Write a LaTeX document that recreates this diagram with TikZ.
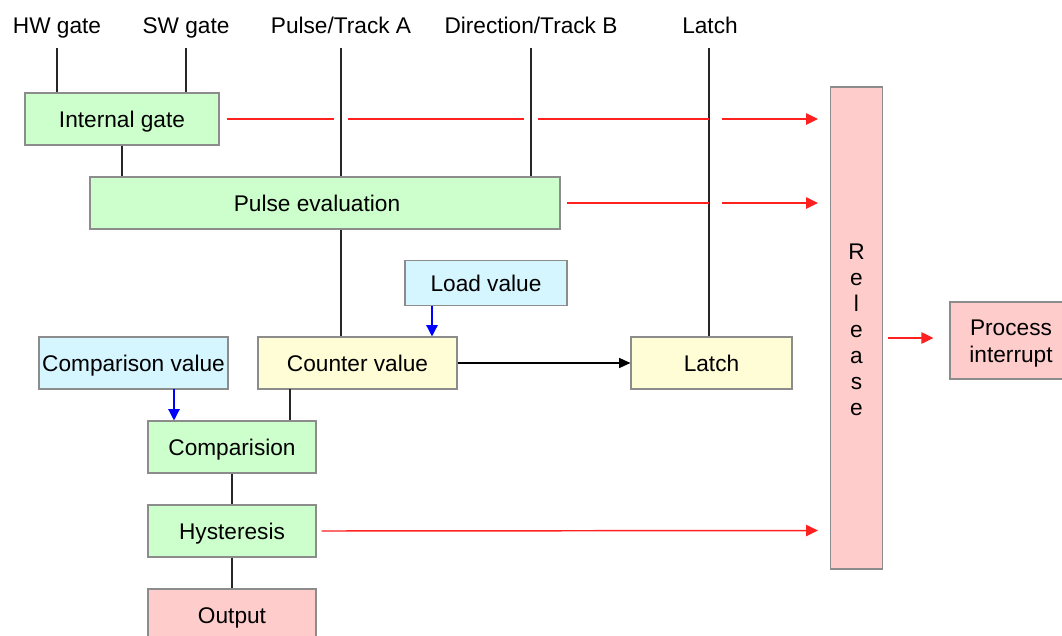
\documentclass[tikz,border=0pt]{standalone}
\usepackage{fontspec}
\setmainfont{Liberation Sans}
\usetikzlibrary{arrows.meta,calc}
\definecolor{gfill}{HTML}{CCFFCC}
\definecolor{bfill}{HTML}{D5F5FF}
\definecolor{yfill}{HTML}{FFFDD5}
\definecolor{pfill}{HTML}{FFCCCC}
\definecolor{bord}{HTML}{8C8C8C}
\definecolor{lred}{HTML}{FF2020}
\begin{document}
\begin{tikzpicture}[x=0.75pt,y=-0.75pt,
  font=\fontsize{17}{20}\selectfont,
  box/.style 2 args={draw=bord, line width=0.8pt, inner sep=0pt, anchor=center,
    minimum width={#1*0.75pt}, minimum height={#2*0.75pt},
    text height=12.2pt, text depth=0pt},
  gbox/.style 2 args={box={#1}{#2}, fill=gfill},
  bbox/.style 2 args={box={#1}{#2}, fill=bfill},
  ybox/.style 2 args={box={#1}{#2}, fill=yfill},
  pbox/.style 2 args={box={#1}{#2}, fill=pfill},
  lbl/.style={inner sep=0pt, anchor=center, text height=12.2pt, text depth=0pt},
  mlbl/.style={inner sep=0pt, anchor=center, align=center},
  wire/.style={draw=black!85, line width=0.9pt},
  rarr/.style={draw=lred, line width=1.1pt},
  rtip/.style={rarr, -{Triangle[length=9pt,width=8.5pt]}},
  btip/.style={draw=blue, line width=1pt, -{Triangle[length=8.5pt,width=8.5pt]}},
  ktip/.style={draw=black, line width=1pt, -{Triangle[length=8.5pt,width=7.5pt]}}]
\clip (0,0) rectangle (1062,635);
\fill[white] (0,0) rectangle (1062,635);

% top labels
\node[lbl] (hw) at (57,25.5) {HW gate};
\node[lbl] (sw) at (186,25.5) {SW gate};
\node[lbl] (pa) at (341,25.5) {Pulse/Track A};
\node[lbl] (db) at (531,25.5) {Direction/Track B};
\node[lbl] (lt) at (710,25.5) {Latch};
\coordinate (top) at (0,48);

% boxes
\node[gbox={194}{52}] (ig) at (122,119) {Internal gate};
\node[gbox={470}{52}] (pe) at (325,203) {Pulse evaluation\hspace*{12pt}};
\node[bbox={162}{45}] (lv) at (486,283) {Load value};
\node[ybox={199}{52}] (cv) at (357.5,363) {Counter value};
\node[ybox={161}{52}] (la) at (711.5,363) {Latch};
\node[bbox={189}{52}] (cpv) at (133.5,363) {Comparison value};
\node[gbox={168}{52}] (cmp) at (232,447) {Comparision};
\node[gbox={168}{52}] (hys) at (232,531) {Hysteresis};
\node[pbox={168}{52}] (out) at (232,615) {Output};
\node[pbox={52}{482}] (rel) at (856.5,328) {};
\node[mlbl, font=\fontsize{17}{19.5}\selectfont] (reltext) at (856.5,330) {R\\e\\l\\e\\a\\s\\e};
\node[pbox={122}{77}] (pi) at (1011,340.5) {};
\node[mlbl, font=\fontsize{17}{20.25}\selectfont] (pitext) at (1011,343.5) {Process\\interrupt};

% black wires
\draw[wire] (hw.center |- top) -- (hw.center |- ig.north);
\draw[wire] (sw.center |- top) -- (sw.center |- ig.north);
\draw[wire] (pa.center |- top) -- (pa.center |- pe.north);
\draw[wire] (db.center |- top) -- (db.center |- pe.north);
\draw[wire] (709,48) coordinate (lttop) -- (lttop |- la.north);
\draw[wire] (ig.center |- ig.south) -- (ig.center |- pe.north);
\draw[wire] (pa.center |- pe.south) -- (pa.center |- cv.north);
\draw[wire] (290,389) coordinate (cvs) -- (cvs |- cmp.north);
\draw[wire] (cmp.south) -- (hys.north);
\draw[wire] (hys.south) -- (out.north);
\draw[ktip] (cv.east) -- (la.west);

% blue arrows
\draw[btip] (432,305.5) coordinate (lvs) -- (lvs |- cv.north);
\draw[btip] (174,389) coordinate (cpvs) -- (cpvs |- cmp.north);

% red lines row 1
\draw[rarr] ($(ig.east)+(7,0)$) -- ($(pa.center |- ig.east)+(-7,0)$);
\draw[rarr] ($(pa.center |- ig.east)+(7,0)$) -- ($(db.center |- ig.east)+(-7,0)$);
\draw[rarr] ($(db.center |- ig.east)+(7,0)$) -- (lttop |- ig.east);
\draw[rtip] ($(lttop |- ig.east)+(13,0)$) -- (818,119) coordinate (r1);
% red row 2
\draw[rarr] ($(pe.east)+(6,0)$) -- (lttop |- pe.east);
\draw[rtip] ($(lttop |- pe.east)+(13,0)$) -- (818,203) coordinate (r2);
% red row 3
\draw[rtip] ($(hys.east)+(5,0)$) -- (818,530.5) coordinate (r3);
% to process interrupt
\draw[rtip] (888,338) coordinate (rs) -- ($(pi.west |- rs)+(-16,0)$);
\end{tikzpicture}
\end{document}
